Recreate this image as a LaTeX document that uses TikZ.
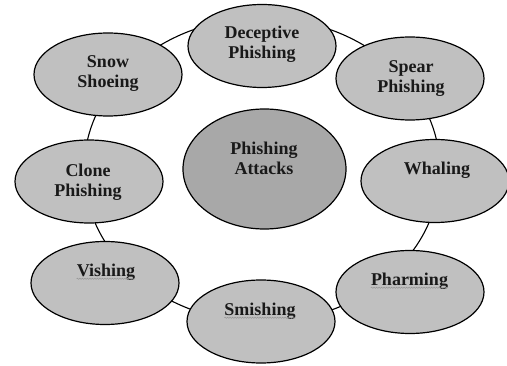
\documentclass[tikz,border=0pt]{standalone}
\usepackage{fontspec}
\setmainfont{Liberation Serif}
\usetikzlibrary{shapes.geometric,decorations.pathmorphing}
\definecolor{ovalgray}{RGB}{192,192,192}
\definecolor{hubgray}{RGB}{168,168,168}
\definecolor{squiggray}{RGB}{150,150,150}
\begin{document}
\begin{tikzpicture}[x=1pt,y=-1pt,
  oval/.style={ellipse,draw=black,line width=1.2pt,fill=ovalgray,inner sep=0pt,
    minimum width=148pt,minimum height=83pt},
  hub/.style={oval,fill=hubgray,minimum width=163pt,minimum height=120pt},
  lbl/.style={font=\fontsize{18}{20}\selectfont\bfseries,align=center,inner sep=0pt,text=black!90},
  ring/.style={draw=black,line width=1.1pt},
  squig/.style={draw=squiggray,line width=0.5pt,decorate,
    decoration={snake,segment length=2.5pt,amplitude=0.6pt}}]
\useasboundingbox (0,0) rectangle (507,366);
\fill[white] (0,0) rectangle (507,366);
% ring behind the ellipses
\node[ellipse,ring,minimum width=356pt,minimum height=304pt,inner sep=0pt] (ringshape) at (262,170) {};
% outer ellipses
\node[oval] (dec) at (262,46) {};
\node[oval] (snow) at (108,74.5) {};
\node[oval] (spear) at (410,78.5) {};
\node[oval] (whal) at (435,181) {};
\node[oval] (clone) at (89,181.5) {};
\node[oval] (vish) at (105,283) {};
\node[oval] (pharm) at (410,292) {};
\node[oval] (smish) at (261,321.5) {};
\node[hub] (hubn) at (264.5,169) {};
% labels
\node[lbl] (decT) at (262,44) {Deceptive\\Phishing};
\node[lbl] (snowT) at (108,74) {Snow\\Shoeing};
\node[lbl] (spearT) at (411,78.5) {Spear\\Phishing};
\node[lbl] (whalT) at (437,170.5) {Whaling};
\node[lbl] (cloneT) at (88,182) {Clone\\Phishing};
\node[lbl] (vishT) at (106,272) {Vishing};
\node[lbl] (pharmT) at (409.5,281) {Pharming};
\node[lbl] (smishT) at (260,311) {Smishing};
\node[lbl] (hubT) at (264,158) {Phishing\\Attacks};
% spell-check squiggles
\draw[squig] ([yshift=-2.5pt]vishT.base west) -- ([yshift=-2.5pt]vishT.base east);
\draw[squig] ([yshift=-2.5pt]pharmT.base west) -- ([yshift=-2.5pt]pharmT.base east);
\draw[squig] ([yshift=-2.5pt]smishT.base west) -- ([yshift=-2.5pt]smishT.base east);
\end{tikzpicture}
\end{document}
